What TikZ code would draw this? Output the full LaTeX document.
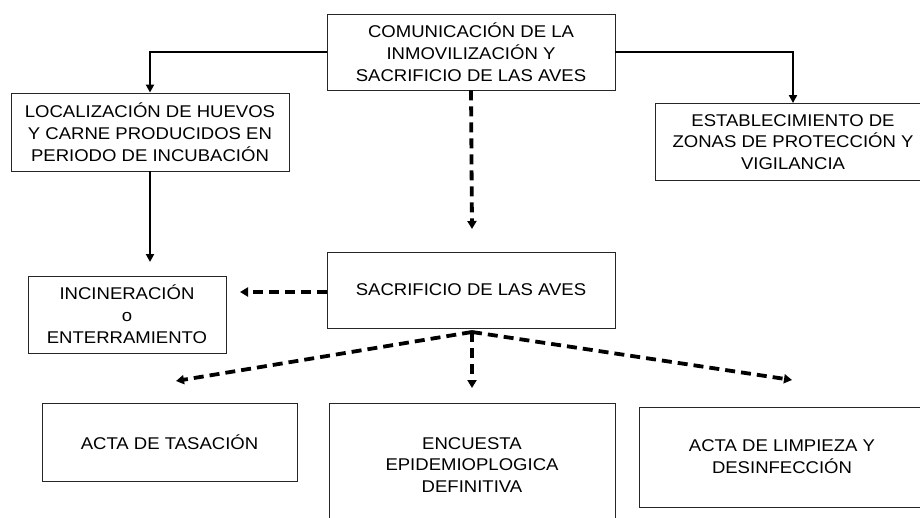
\documentclass[tikz,border=0pt]{standalone}
\usepackage{fontspec}
\setmainfont{Liberation Sans}[FakeStretch=1.09]
\usetikzlibrary{arrows.meta}
\begin{document}
\begin{tikzpicture}[x=1pt,y=-1pt,
  box/.style={draw=black!85,line width=0.9pt,align=center,inner sep=0pt,
    font=\fontsize{17}{21.8}\selectfont},
  solidarr/.style={line width=2.1pt,-{Triangle[length=8pt,width=8pt]}},
  dasharr/.style={line width=3.8pt,dash pattern=on 10pt off 6pt,
    -{Triangle[length=8pt,width=9pt]}}]
\useasboundingbox (0,0) rectangle (920,517);
\clip (0,0) rectangle (920,517);
\node[box,minimum width=288pt,minimum height=76pt] (top) at (471,52)
  {COMUNICACIÓN DE LA\\INMOVILIZACIÓN Y\\SACRIFICIO DE LAS AVES};
\node[box,minimum width=278pt,minimum height=78pt] (loc) at (150,132)
  {LOCALIZACIÓN DE HUEVOS\\Y CARNE PRODUCIDOS EN\\PERIODO DE INCUBACIÓN};
\node[box,minimum width=276pt,minimum height=77pt] (est) at (793,142)
  {ESTABLECIMIENTO DE\\ZONAS DE PROTECCIÓN Y\\VIGILANCIA};
\node[box,minimum width=288pt,minimum height=76pt] (sac) at (471,290)
  {SACRIFICIO DE LAS AVES};
\node[box,minimum width=198pt,minimum height=77pt] (inc) at (127,314.5)
  {INCINERACIÓN\\o\\ENTERRAMIENTO};
\node[box,minimum width=255pt,minimum height=78pt] (tas) at (169.5,442)
  {ACTA DE TASACIÓN};
\node[box,minimum width=286pt,minimum height=124pt] (enc) at (472,465)
  {ENCUESTA\\EPIDEMIOPLOGICA\\DEFINITIVA};
\node[box,minimum width=286pt,minimum height=100pt] (lim) at (782,457)
  {ACTA DE LIMPIEZA Y\\DESINFECCIÓN};
% solid connectors
\draw[solidarr] (top.west |- 0,52) -| (loc.north);
\draw[solidarr] (top.east |- 0,52) -| (est.north);
\draw[solidarr] (loc.south) -- (150,262);
% dashed connectors
\coordinate (t1) at (472,229);
\coordinate (t2) at (240,292);
\coordinate (s0) at (472,332);
\coordinate (t3) at (176,381);
\coordinate (t4) at (472,388);
\coordinate (t5) at (792,380);
\draw[dasharr] (top.south) -- (t1);
\draw[dasharr] (sac.west |- 0,292) -- (t2);
\draw[dasharr] (s0) -- (t3);
\draw[dasharr] (s0) -- (t4);
\draw[dasharr] (s0) -- (t5);
\end{tikzpicture}
\end{document}
